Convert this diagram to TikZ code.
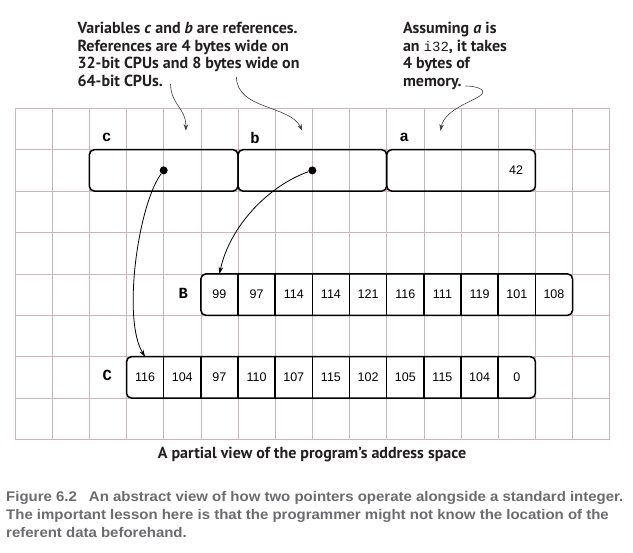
\documentclass[tikz,border=0pt]{standalone}
\usepackage{fontspec}
\setmainfont{Liberation Sans}
\newfontfamily\annfont{PT Sans}
\newfontfamily\capfont[FakeStretch=1.07]{Liberation Sans}
\newfontfamily\cellfont{Liberation Sans}
\newfontfamily\lblfont{Liberation Mono}
\usetikzlibrary{arrows.meta}
\definecolor{gridc}{RGB}{208,180,188}
\definecolor{capgray}{RGB}{108,108,112}
\definecolor{anncol}{RGB}{35,31,32}
\tikzset{
  gridline/.style={gridc, line width=0.7pt},
  membox/.style={draw, line width=1.5pt, rounded corners=5pt, minimum width=148.68pt, minimum height=41.4pt, inner sep=0pt, outer sep=0pt},
  cellnode/.style={minimum width=37.17pt, minimum height=41.4pt, inner sep=0pt, outer sep=0pt, font=\cellfont\fontsize{12.5}{14}\selectfont},
  arrbox/.style={line width=1.5pt, rounded corners=5pt},
  divider/.style={line width=1.5pt},
  dotnode/.style={circle, fill=black, inner sep=0pt, minimum size=8pt},
  varlbl/.style={font=\lblfont\bfseries\fontsize{15.5}{17}\selectfont, inner sep=0pt},
  anntext/.style={font=\annfont\bfseries\fontsize{16}{17.8}\selectfont, text=anncol, align=left, inner sep=0pt, anchor=base west},
  mainarrow/.style={line width=0.8pt, -{Stealth[length=7pt,width=4.5pt]}},
  annarrow/.style={line width=0.6pt, draw=black!75, -{Stealth[length=6.5pt,width=4.5pt]}},
}
\begin{document}
\begin{tikzpicture}[x=1pt, y=-1pt]
\useasboundingbox (0,0) rectangle (633,553);
\fill[white] (0,0) rectangle (633,553);
% grid
\foreach \i in {0,...,16} \draw[gridline] ({15+37.17*\i},108.3) -- ({15+37.17*\i},439.5);
\foreach \j in {0,...,8} \draw[gridline] (15,{108.3+41.4*\j}) -- (609.72,{108.3+41.4*\j});
% annotations (anchor = baseline of last line)
\node[anntext] (ann1) at (77.4,86.7) {Variables \textit{c} and \textit{b} are references.\\References are 4 bytes wide on\\32-bit CPUs and 8 bytes wide on\\64-bit CPUs.};
\node[anntext] (ann2) at (402.8,86.7) {Assuming \textit{a} is\\an {\lblfont\mdseries\fontsize{14}{17.8}\selectfont i32}, it takes\\4 bytes of\\memory.};
% top boxes
\node[membox] (cbox) at (163.68,170.4) {};
\node[membox] (bbox) at (312.36,170.4) {};
\node[membox] (abox) at (461.04,170.4) {};
\node[varlbl] (clbl) at (106.7,137.5) {c};
\node[varlbl] (blbl) at (255,137.5) {b};
\node[varlbl] (albl) at (404.3,137.5) {a};
\node[font=\cellfont\fontsize{12.5}{14}\selectfont, inner sep=0pt] (aval) at (516,170.4) {42};
\node[dotnode] (cdot) at (163.68,170.4) {};
\node[dotnode] (bdot) at (312.36,170.4) {};
% B array
\foreach \v [count=\k] in {99,97,114,114,121,116,111,119,101,108}
  \node[cellnode] (B\k) at ({200.85+37.17*(\k-0.5)},294.6) {\v};
\draw[arrbox] (B1.north west) rectangle (B10.south east);
\foreach \k in {1,...,9} \draw[divider] (B\k.north east) -- (B\k.south east);
\node[varlbl] (Blbl) at (183.3,293) {B};
% C array
\foreach \v [count=\k] in {116,104,97,110,107,115,102,105,115,104,0}
  \node[cellnode] (C\k) at ({126.51+37.17*(\k-0.5)},377.4) {\v};
\draw[arrbox] (C1.north west) rectangle (C11.south east);
\foreach \k in {1,...,10} \draw[divider] (C\k.north east) -- (C\k.south east);
\node[varlbl] (Clbl) at (107.3,375.5) {C};
% pointer arrows
\draw[mainarrow] (cdot) .. controls (138,205) and (122,320) .. (C1.north);
\draw[mainarrow] (bdot) .. controls (270,185) and (230,225) .. (B1.north);
% annotation arrows
\coordinate (a1s) at (170.5,84);
\coordinate (a1e) at (185.9,130.7);
\draw[annarrow] (a1s) .. controls (171,105) and (186,108) .. (a1e);
\coordinate (a2s) at (236.4,77);
\coordinate (a2e) at (302.2,130.7);
\draw[annarrow] (a2s) .. controls (237,110) and (290,105) .. (a2e);
\coordinate (a3s) at (465.5,86);
\coordinate (a3m) at (482,94);
\coordinate (a3e) at (440.4,130.7);
\draw[annarrow] (a3s) .. controls (475,86) and (486,89) .. (a3m) .. controls (478,100) and (445,108) .. (a3e);
% bottom label
\node[font=\annfont\bfseries\fontsize{16}{18}\selectfont, text=anncol, inner sep=0pt, anchor=base] (space) at (312,458.3) {A partial view of the program’s address space};
% caption (anchor = baseline of last line)
\node[font=\capfont\bfseries\fontsize{14}{18}\selectfont, text=capgray, align=left, inner sep=0pt, anchor=base west] (caption) at (6,538) {Figure 6.2\hspace{12pt}An abstract view of how two pointers operate alongside a standard integer.\\The important lesson here is that the programmer might not know the location of the\\referent data beforehand.};
\end{tikzpicture}
\end{document}
